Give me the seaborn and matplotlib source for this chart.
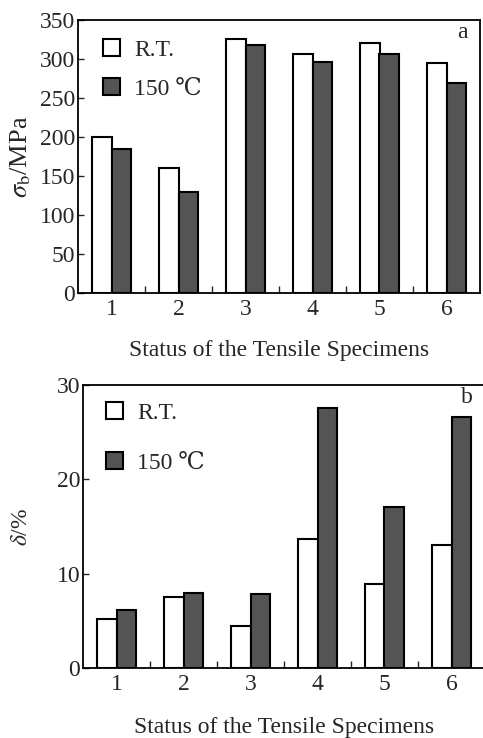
import pandas as pd
import seaborn as sns
import matplotlib.pyplot as plt
from matplotlib.ticker import FixedLocator, NullFormatter

status = ["1", "2", "3", "4", "5", "6"]
temps = ["R.T.", "150 ℃"]

# tensile strength, MPa
strength_rt = [200, 160, 326, 307, 320, 295]
strength_150 = [184, 130, 318, 296, 306, 269]

# elongation, %
elong_rt = [5.2, 7.5, 4.4, 13.7, 8.9, 13.0]
elong_150 = [6.1, 8.0, 7.8, 27.6, 17.1, 26.6]

colores = {"R.T.": "white", "150 ℃": "#545454"}

sns.set_style("ticks")
plt.rcParams['font.family'] = ['Liberation Serif', 'DejaVu Serif']
plt.rcParams['mathtext.fontset'] = 'stix'


def long_df(rt, hot, col):
    df = pd.DataFrame({"status": status * 2,
                       "temp": [temps[0]] * len(status) + [temps[1]] * len(status),
                       col: list(rt) + list(hot)})
    return df


def dibujar(ax, df, col, ylim, yticks, ylabel, ylabel_size, letra, leg_anchor, leg_spacing, xpad):
    sns.barplot(data=df, x="status", y=col, hue="temp", order=status, hue_order=temps,
                palette=colores, width=0.58, edgecolor="black", linewidth=1.5,
                saturation=1, ax=ax, legend=True)
    ax.set_xlim(-0.5, len(status) - 0.5)
    ax.set_ylim(*ylim)
    ax.set_yticks(yticks)
    ax.tick_params(axis="y", direction="in", length=4, width=1, labelsize=17, pad=2)
    ax.tick_params(axis="x", which="major", length=0, labelsize=17, pad=4)
    ax.xaxis.set_minor_locator(FixedLocator([i + 0.5 for i in range(len(status) - 1)]))
    ax.xaxis.set_minor_formatter(NullFormatter())
    ax.tick_params(axis="x", which="minor", direction="in", length=5, width=1)
    for s in ax.spines.values():
        s.set_linewidth(1.3)
        s.set_color("black")
    ax.set_xlabel("Status of the Tensile Specimens", fontsize=17, labelpad=xpad)
    ax.set_ylabel(ylabel, fontsize=ylabel_size)
    ax.text(0.955, 0.955, letra, transform=ax.transAxes, fontsize=17,
            ha="center", va="center")
    handles, labels = ax.get_legend_handles_labels()
    ax.legend(handles, labels, loc="upper left", bbox_to_anchor=leg_anchor,
              frameon=False, fontsize=17, handlelength=0.72, handleheight=0.72,
              handletextpad=0.6, labelspacing=leg_spacing, borderpad=0, borderaxespad=0)


fig = plt.figure(figsize=(4.83, 7.38), dpi=100)
ax1 = fig.add_axes([78 / 483, 445 / 738, 402 / 483, 273 / 738])
ax2 = fig.add_axes([83 / 483, 70 / 738, 402 / 483, 283 / 738])

dibujar(ax1, long_df(strength_rt, strength_150, "sigma"), "sigma", (0, 350),
        range(0, 351, 50), r"$\sigma_{\mathrm{b}}$/MPa", 19, "a", (0.062, 0.93), 0.72, 15)
dibujar(ax2, long_df(elong_rt, elong_150, "delta"), "delta", (0, 30),
        [0, 10, 20, 30], r"$\delta$/%", 17, "b", (0.058, 0.94), 1.2, 16)

ax1.yaxis.set_label_coords(-0.112, 0.5)
ax2.yaxis.set_label_coords(-0.127, 0.5)

fig.savefig("out.png", dpi=100)
